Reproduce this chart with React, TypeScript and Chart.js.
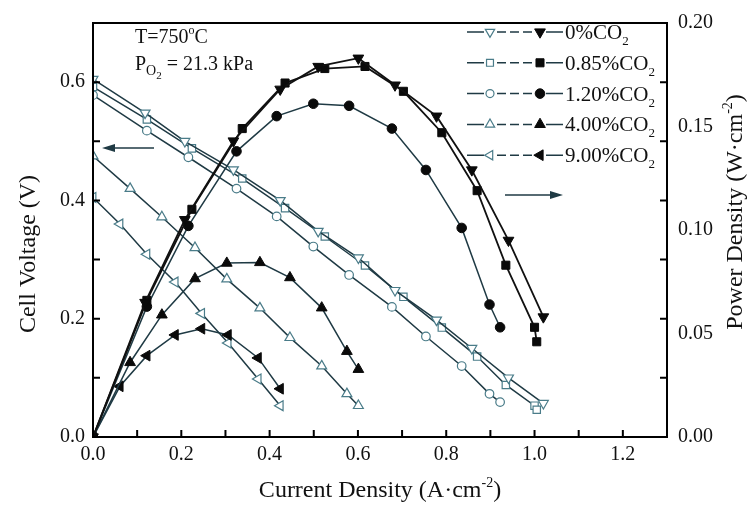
import { useEffect, useRef } from 'react';
import { Chart, registerables } from 'chart.js';
import { drawPoint } from 'chart.js/helpers';

Chart.register(...registerables);

const FONT = '"Liberation Serif", "Times New Roman", Times, serif';

// ---- data ----
const seriesLabels = ['0%CO', '0.85%CO', '1.20%CO', '4.00%CO', '9.00%CO']; // each followed by subscript 2

const current_0 = [0, 0.118, 0.208, 0.318, 0.424, 0.51, 0.601, 0.684, 0.778, 0.858, 0.941, 1.02];
const voltage_0 = [0.605, 0.548, 0.5, 0.452, 0.4, 0.348, 0.303, 0.248, 0.198, 0.15, 0.1, 0.057];
const power_0 = [0, 0.065, 0.105, 0.143, 0.168, 0.179, 0.183, 0.17, 0.155, 0.129, 0.095, 0.058];

const current_085 = [0, 0.122, 0.224, 0.338, 0.435, 0.525, 0.616, 0.703, 0.79, 0.87, 0.935, 1.0, 1.005];
const voltage_085 = [0.592, 0.537, 0.488, 0.437, 0.387, 0.339, 0.29, 0.237, 0.185, 0.136, 0.088, 0.053, 0.046];
const power_085 = [0, 0.066, 0.11, 0.149, 0.171, 0.178, 0.179, 0.167, 0.147, 0.119, 0.083, 0.053, 0.046];

const current_120 = [0, 0.122, 0.216, 0.325, 0.416, 0.499, 0.58, 0.677, 0.754, 0.835, 0.898, 0.922];
const voltage_120 = [0.578, 0.518, 0.473, 0.42, 0.373, 0.322, 0.274, 0.22, 0.17, 0.12, 0.073, 0.059];
const power_120 = [0, 0.063, 0.102, 0.138, 0.155, 0.161, 0.16, 0.149, 0.129, 0.101, 0.064, 0.053];

const current_400 = [0, 0.084, 0.156, 0.231, 0.303, 0.378, 0.446, 0.518, 0.575, 0.601];
const voltage_400 = [0.475, 0.42, 0.372, 0.32, 0.267, 0.218, 0.168, 0.12, 0.073, 0.053];
const power_400 = [0, 0.036, 0.059, 0.0765, 0.084, 0.0843, 0.077, 0.0624, 0.0414, 0.0327];

const current_900 = [0, 0.061, 0.122, 0.186, 0.246, 0.306, 0.374, 0.424];
const voltage_900 = [0.405, 0.36, 0.309, 0.262, 0.209, 0.159, 0.098, 0.053];
const power_900 = [0, 0.0245, 0.0393, 0.0493, 0.0523, 0.0493, 0.0382, 0.0233];

// ---- styles ----
const LINE = '#1f3a44';
const HOLLOW = '#4a7c89';
const FILLED = '#0a0a0a';

const markers = [
  { style: 'triangle', rotation: 180, radius: 6.2 },
  { style: 'rect', rotation: 0, radius: 5.7 },
  { style: 'circle', rotation: 0, radius: 4.8 },
  { style: 'triangle', rotation: 0, radius: 6.2 },
  { style: 'triangle', rotation: 270, radius: 6.2 },
];

const series = [
  { I: current_0, V: voltage_0, P: power_0 },
  { I: current_085, V: voltage_085, P: power_085 },
  { I: current_120, V: voltage_120, P: power_120 },
  { I: current_400, V: voltage_400, P: power_400 },
  { I: current_900, V: voltage_900, P: power_900 },
];

const zip = (xs: number[], ys: number[]) => xs.map((x, i) => ({ x, y: ys[i] }));

type Part = { t: string; size: number; dy: number };

function drawRich(ctx: CanvasRenderingContext2D, parts: Part[], x: number, y: number, align: 'left' | 'center') {
  let total = 0;
  for (const p of parts) {
    ctx.font = `${p.size}px ${FONT}`;
    total += ctx.measureText(p.t).width;
  }
  let cx = align === 'center' ? x - total / 2 : x;
  ctx.textAlign = 'left';
  for (const p of parts) {
    ctx.font = `${p.size}px ${FONT}`;
    ctx.fillText(p.t, cx, y + p.dy);
    cx += ctx.measureText(p.t).width;
  }
}

const decorPlugin = {
  id: 'decor',
  afterDraw(chart: any) {
    const { ctx, chartArea: a, scales } = chart;
    const xs = scales.x;
    const ys = scales.y;
    ctx.save();
    // frame
    ctx.strokeStyle = '#000';
    ctx.lineWidth = 2;
    ctx.strokeRect(a.left, a.top, a.right - a.left, a.bottom - a.top);
    // inward tick marks
    const TL = 7;
    ctx.beginPath();
    for (const t of xs.ticks) {
      const px = xs.getPixelForValue(t.value);
      if (px <= a.left + 1 || px >= a.right - 1) continue;
      ctx.moveTo(px, a.bottom);
      ctx.lineTo(px, a.bottom - TL);
    }
    for (const t of ys.ticks) {
      const py = ys.getPixelForValue(t.value);
      if (py <= a.top + 1 || py >= a.bottom - 1) continue;
      ctx.moveTo(a.left, py);
      ctx.lineTo(a.left + TL, py);
      ctx.moveTo(a.right, py);
      ctx.lineTo(a.right - TL, py);
    }
    ctx.stroke();

    ctx.fillStyle = '#111';
    ctx.textBaseline = 'alphabetic';
    // annotation
    drawRich(ctx, [
      { t: 'T=750', size: 20, dy: 0 },
      { t: 'o', size: 12, dy: -9 },
      { t: 'C', size: 20, dy: 0 },
    ], 135, 43, 'left');
    drawRich(ctx, [
      { t: 'P', size: 20, dy: 0 },
      { t: 'O', size: 14, dy: 5 },
      { t: '2', size: 11, dy: 9 },
      { t: ' = 21.3 kPa', size: 20, dy: 0 },
    ], 135, 70, 'left');

    // axis titles
    ctx.save();
    ctx.translate(35, 254);
    ctx.rotate(-Math.PI / 2);
    drawRich(ctx, [{ t: 'Cell Voltage (V)', size: 24, dy: 0 }], 0, 0, 'center');
    ctx.restore();

    ctx.save();
    ctx.translate(742, 212);
    ctx.rotate(-Math.PI / 2);
    drawRich(ctx, [
      { t: 'Power Density (W·cm', size: 24, dy: 0 },
      { t: '-2', size: 14, dy: -10 },
      { t: ')', size: 24, dy: 0 },
    ], 0, 0, 'center');
    ctx.restore();

    drawRich(ctx, [
      { t: 'Current Density (A·cm', size: 24, dy: 0 },
      { t: '-2', size: 14, dy: -10 },
      { t: ')', size: 24, dy: 0 },
    ], (a.left + a.right) / 2, 497, 'center');

    // arrows
    ctx.strokeStyle = LINE;
    ctx.fillStyle = LINE;
    ctx.lineWidth = 1.5;
    ctx.beginPath();
    ctx.moveTo(112, 148);
    ctx.lineTo(154, 148);
    ctx.stroke();
    ctx.beginPath();
    ctx.moveTo(102, 148);
    ctx.lineTo(115, 144);
    ctx.lineTo(115, 152);
    ctx.closePath();
    ctx.fill();
    ctx.beginPath();
    ctx.moveTo(505, 195);
    ctx.lineTo(553, 195);
    ctx.stroke();
    ctx.beginPath();
    ctx.moveTo(563, 195);
    ctx.lineTo(550, 191);
    ctx.lineTo(550, 199);
    ctx.closePath();
    ctx.fill();

    // legend
    seriesLabels.forEach((label, i) => {
      const y = 32 + i * 30.8;
      const m = markers[i];
      ctx.strokeStyle = LINE;
      ctx.lineWidth = 1.5;
      ctx.setLineDash([]);
      ctx.beginPath();
      ctx.moveTo(467, y);
      ctx.lineTo(484, y);
      ctx.moveTo(546, y);
      ctx.lineTo(563, y);
      ctx.stroke();
      ctx.setLineDash([9, 4]);
      ctx.beginPath();
      ctx.moveTo(497, y);
      ctx.lineTo(533, y);
      ctx.stroke();
      ctx.setLineDash([]);
      ctx.fillStyle = '#fff';
      ctx.strokeStyle = HOLLOW;
      ctx.lineWidth = 1.2;
      drawPoint(ctx, { pointStyle: m.style, rotation: m.rotation, radius: m.radius - 0.8, borderWidth: 1.2 } as any, 490, y);
      ctx.fillStyle = FILLED;
      ctx.strokeStyle = FILLED;
      ctx.lineWidth = 1;
      drawPoint(ctx, { pointStyle: m.style, rotation: m.rotation, radius: m.radius, borderWidth: 1 } as any, 540, y);
      ctx.fillStyle = '#111';
      drawRich(ctx, [
        { t: label, size: 21, dy: 0 },
        { t: '2', size: 13, dy: 6 },
      ], 565, y + 7, 'left');
    });
    ctx.restore();
  },
};

const tickFont = { family: FONT, size: 20 };

export default function App() {
  const ref = useRef<HTMLCanvasElement>(null);
  useEffect(() => {
    const datasets: any[] = [];
    series.forEach((s, i) => {
      const m = markers[i];
      datasets.push({
        label: seriesLabels[i] + '₂ voltage',
        data: zip(s.I, s.V),
        yAxisID: 'y',
        showLine: true,
        borderColor: LINE,
        borderWidth: 1.5,
        pointStyle: m.style,
        rotation: m.rotation,
        pointRadius: m.radius - 0.5,
        pointBorderWidth: 1.2,
        pointBorderColor: HOLLOW,
        pointBackgroundColor: '#fff',
        order: 1,
      });
      datasets.push({
        label: seriesLabels[i] + '₂ power',
        data: zip(s.I, s.P),
        yAxisID: 'y1',
        showLine: true,
        borderColor: i < 2 ? '#111' : LINE,
        borderWidth: i < 2 ? 1.8 : 1.5,
        pointStyle: m.style,
        rotation: m.rotation,
        pointRadius: m.radius,
        pointBorderWidth: 1,
        pointBorderColor: FILLED,
        pointBackgroundColor: FILLED,
        order: 0,
      });
    });
    const chart = new Chart(ref.current!, {
      type: 'scatter',
      data: { datasets },
      plugins: [decorPlugin],
      options: {
        animation: false,
        responsive: false,
        maintainAspectRatio: false,
        layout: { padding: { top: 17, left: 0, right: 0, bottom: 0 } },
        plugins: { legend: { display: false }, tooltip: { enabled: false } },
        elements: { line: { tension: 0 } },
        scales: {
          x: {
            type: 'linear',
            min: 0,
            max: 1.3,
            grid: { display: false, drawTicks: false },
            border: { display: false },
            ticks: {
              stepSize: 0.1,
              autoSkip: false,
              maxRotation: 0,
              color: '#111',
              font: tickFont,
              padding: 6,
              callback: (v: any) => {
                const r = Math.round(Number(v) * 10);
                return r % 2 === 0 && r <= 12 ? (r / 10).toFixed(1) : '';
              },
            },
            afterFit: (s: any) => { s.height = 68; },
          },
          y: {
            type: 'linear',
            position: 'left',
            min: 0,
            max: 0.7,
            grid: { display: false, drawTicks: false },
            border: { display: false },
            ticks: {
              stepSize: 0.1,
              autoSkip: false,
              color: '#111',
              font: tickFont,
              padding: 8,
              callback: (v: any) => {
                const r = Math.round(Number(v) * 10);
                return r % 2 === 0 && r <= 6 ? (r / 10).toFixed(1) : '';
              },
            },
            afterFit: (s: any) => { s.width = 93; },
          },
          y1: {
            type: 'linear',
            position: 'right',
            min: 0,
            max: 0.2,
            grid: { display: false, drawTicks: false },
            border: { display: false },
            ticks: {
              stepSize: 0.05,
              autoSkip: false,
              color: '#111',
              font: tickFont,
              padding: 11,
              callback: (v: any) => Number(v).toFixed(2),
            },
            afterFit: (s: any) => { s.width = 85; },
          },
        },
      } as any,
    });
    return () => chart.destroy();
  }, []);
  return (
    <div style={{ position: 'absolute', left: 0, top: 0, width: 752, height: 505, background: '#fff' }}>
      <canvas ref={ref} width={752} height={505} style={{ display: 'block', width: 752, height: 505 }} />
    </div>
  );
}
